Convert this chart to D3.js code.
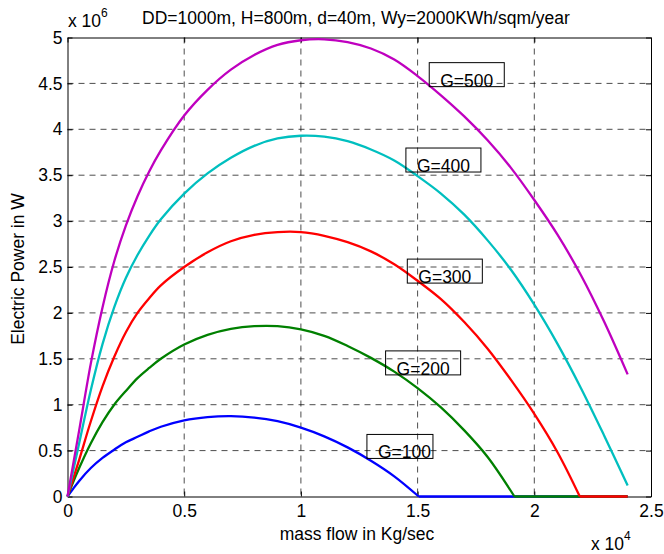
<!DOCTYPE html>
<html><head><meta charset="utf-8">
<script src="https://cdn.jsdelivr.net/npm/d3@7"></script>
<style>
body{margin:0;background:#fff}
svg{display:block}
text{font-family:"Liberation Sans",Arial,Helvetica,sans-serif;fill:#000}
</style>
</head><body>
<svg id="chart" width="664" height="554"></svg>
<script>
// ---- data ----
// mass flow in kg/s; electric power in units of 10^6 W
const massFlow = [0,200,500,1000,1500,2000,2500,3000,3500,4000,5000,6000,7000,8000,9000,10000,11000,12000,13000,14000,15000,15050,16000,17000,18000,19000,19150,20000,21000,21950,22000,23000,24000];
const powerG100 = [0,.07,.17,.31,.42,.51,.59,.65,.71,.76,.83,.865,.875,.86,.82,.75,.655,.535,.39,.22,.02,0,0,0,0,0,0,0,0,0,0,0,0];
const powerG200 = [0,.13,.31,.58,.81,1.00,1.15,1.29,1.40,1.50,1.655,1.76,1.825,1.855,1.855,1.82,1.75,1.64,1.51,1.36,1.18,1.17,.97,.72,.43,.07,0,0,0,0,0,0,0];
const powerG300 = [0,.16,.40,.82,1.20,1.52,1.79,2.00,2.16,2.30,2.50,2.66,2.78,2.85,2.88,2.88,2.84,2.77,2.67,2.53,2.35,2.34,2.15,1.90,1.61,1.27,1.22,.90,.48,0,0,0,0];
const powerG400 = [0,.23,.58,1.16,1.66,2.06,2.38,2.63,2.84,3.02,3.30,3.52,3.69,3.82,3.90,3.93,3.92,3.87,3.78,3.66,3.49,3.48,3.30,3.07,2.79,2.47,2.42,2.09,1.66,1.20,1.18,.66,.12];
const powerG500 = [0,.29,.72,1.45,2.06,2.56,2.95,3.27,3.54,3.77,4.15,4.43,4.65,4.81,4.92,4.97,4.98,4.95,4.88,4.76,4.58,4.57,4.37,4.14,3.88,3.58,3.53,3.23,2.85,2.43,2.41,1.90,1.33];
const seriesNames = ["G=100","G=200","G=300","G=400","G=500"];
const seriesColors = ["#0000ff","#008000","#ff0000","#00bfbf","#bf00bf"];
const xTicks = [0,5000,10000,15000,20000,25000];
const yTicks = [0,0.5,1,1.5,2,2.5,3,3.5,4,4.5,5];
const xTickLabels = ["0","0.5","1","1.5","2","2.5"];
const yTickLabels = ["0","0.5","1","1.5","2","2.5","3","3.5","4","4.5","5"];
// label anchors (data coords: left edge of text, vertical middle)
const labelX = [13300,14100,15030,14970,15970];
const labelY = [0.48,1.39,2.39,3.60,4.53];
const titleText = "DD=1000m, H=800m, d=40m, Wy=2000KWh/sqm/year";

const allSeries = [powerG100,powerG200,powerG300,powerG400,powerG500];

// ---- layout ----
const svg = d3.select("#chart");
const L = 67.5, R = 651, T = 37.5, B = 496.5;
const x = d3.scaleLinear().domain([0,25000]).range([L,R]);
const y = d3.scaleLinear().domain([0,5]).range([B,T]);
const FS = 17.5;
const boxPadRight = [2,11,11,11,11];

// grid
const grid = svg.append("g");
xTicks.slice(1,-1).forEach(t=>{
  grid.append("line").attr("x1",x(t)).attr("x2",x(t)).attr("y1",T).attr("y2",B)
    .attr("stroke","#000").attr("stroke-opacity",0.7).attr("stroke-width",1).attr("stroke-dasharray","6,5");
});
yTicks.slice(1,-1).forEach(t=>{
  grid.append("line").attr("x1",L).attr("x2",R).attr("y1",y(t)).attr("y2",y(t))
    .attr("stroke","#000").attr("stroke-opacity",0.7).attr("stroke-width",1).attr("stroke-dasharray","6,5");
});

// axes with inward ticks
const xb = svg.append("g").attr("transform",`translate(0,${B})`)
  .call(d3.axisBottom(x).tickValues(xTicks).tickSizeInner(-5).tickSizeOuter(0).tickPadding(8)
    .tickFormat((d,i)=>xTickLabels[i]));
const xt = svg.append("g").attr("transform",`translate(0,${T})`)
  .call(d3.axisTop(x).tickValues(xTicks).tickSizeInner(-5).tickSizeOuter(0).tickFormat(""));
const yl = svg.append("g").attr("transform",`translate(${L},0)`)
  .call(d3.axisLeft(y).tickValues(yTicks).tickSizeInner(-5).tickSizeOuter(0).tickPadding(5)
    .tickFormat((d,i)=>yTickLabels[i]));
const yr = svg.append("g").attr("transform",`translate(${R},0)`)
  .call(d3.axisRight(y).tickValues(yTicks).tickSizeInner(-5).tickSizeOuter(0).tickFormat(""));
[xb,xt,yl,yr].forEach(g=>{
  g.select(".domain").attr("stroke","#000").attr("stroke-width",1);
  g.selectAll(".tick line").attr("stroke","#000");
  g.selectAll("text").attr("font-size",FS).attr("font-family","Liberation Sans, Arial, sans-serif").attr("fill","#000");
});

// series lines: smooth rising/falling part, straight zero part
function knots(s){
  const n = massFlow.length;
  const isCorner = i => s[i]===0 && i>0 && s[i-1]>0;
  const pts = [];
  for (let i=0;i<n;i++){
    const nearPrev = i>0 && massFlow[i]-massFlow[i-1] < 200;
    const nearNext = i<n-1 && massFlow[i+1]-massFlow[i] < 200;
    let keep = true;
    if (nearPrev || nearNext){
      if (isCorner(i)) keep = true;
      else {
        const j = nearPrev ? i-1 : i+1;
        keep = isCorner(j) ? false : (massFlow[i] % 1000 === 0);
      }
    }
    if (keep) pts.push({m:massFlow[i], p:s[i]});
  }
  return pts;
}
const smooth = d3.line().x(d=>x(d.m)).y(d=>y(d.p)).curve(d3.curveCatmullRom.alpha(0.5));
const straight = d3.line().x(d=>x(d.m)).y(d=>y(d.p));
allSeries.forEach((s,k)=>{
  const pts = knots(s);
  let c = pts.findIndex((d,i)=>i>0 && d.p===0 && pts[i-1].p>0);
  if (c < 0) c = pts.length-1;
  const part1 = pts.slice(0,c+1), part2 = pts.slice(c);
  const dStr = smooth(part1) + (part2.length>1 ? straight(part2) : "");
  svg.append("path").attr("d",dStr).attr("fill","none")
    .attr("stroke",seriesColors[k]).attr("stroke-width",2.3).attr("stroke-linejoin","round");
});

// labels with boxes
const labels = svg.append("g");
seriesNames.forEach((n,k)=>{
  const tx = x(labelX[k]), ty = y(labelY[k]);
  const t = labels.append("text").attr("x",tx).attr("y",ty+6).attr("font-size",FS).text(n);
  const w = t.node().getComputedTextLength();
  labels.append("rect").attr("x",tx-11).attr("y",ty-18).attr("width",w+11+boxPadRight[k]).attr("height",24)
    .attr("fill","none").attr("stroke","#000").attr("stroke-width",1);
});

// title
svg.append("text").attr("x",356).attr("y",23.5).attr("text-anchor","middle").attr("font-size",FS).text(titleText);
// exponent labels
const e6 = svg.append("text").attr("x",68).attr("y",27).attr("font-size",FS);
e6.append("tspan").text("x 10");
e6.append("tspan").attr("dy",-10).attr("font-size",12).text("6");
const e4 = svg.append("text").attr("x",591).attr("y",550).attr("font-size",FS);
e4.append("tspan").text("x 10");
e4.append("tspan").attr("dy",-10).attr("font-size",12).text("4");
// axis labels
svg.append("text").attr("x",357).attr("y",540).attr("text-anchor","middle").attr("font-size",FS).text("mass flow in Kg/sec");
svg.append("text").attr("transform",`translate(24,269) rotate(-90)`).attr("text-anchor","middle").attr("font-size",FS).text("Electric Power in W");
</script>
</body></html>
